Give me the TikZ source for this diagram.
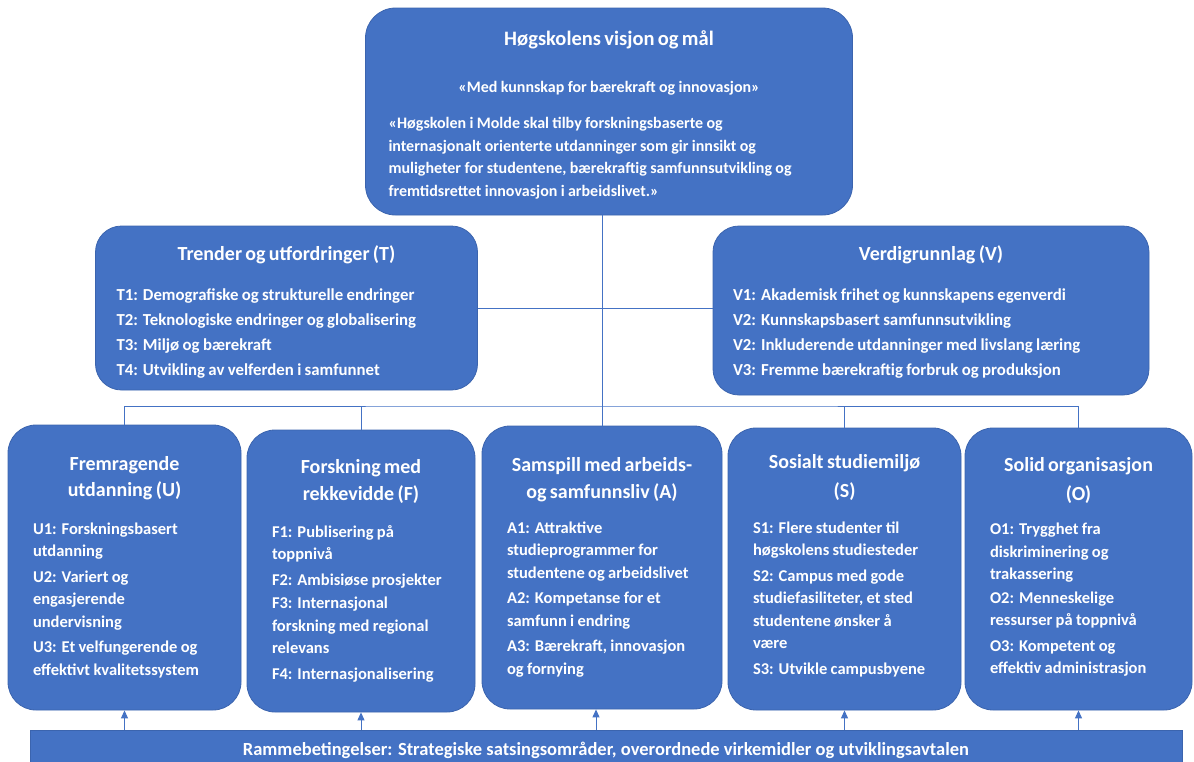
\documentclass[tikz,border=0pt]{standalone}
\usepackage{fontspec}
\setmainfont{Carlito}
\usepackage{tikz}
\usetikzlibrary{shapes,arrows.meta,positioning}
\definecolor{boxblue}{HTML}{4472C4}
\definecolor{edgeblue}{HTML}{3B64AE}
\tikzstyle{bbox} = [rectangle, rounded corners=28pt, fill=boxblue, draw=edgeblue, line width=0.8pt, text=white, font=\bfseries, align=left, inner xsep=25pt, inner ysep=0pt]
\tikzstyle{line} = [draw=boxblue, line width=1pt]
\tikzstyle{uparrow} = [draw=boxblue, line width=1pt, -{Triangle[length=8pt,width=7pt]}]
\newcommand{\boxhead}[3]{{\centering\fontsize{#1}{#2}\selectfont #3\par}}
\newcommand{\bodysize}{\fontsize{16.5}{22.5}\selectfont}

\begin{document}
\begin{tikzpicture}[x=1pt, y=-1pt]
			\path [use as bounding box] (0,0) rectangle (1194,761);
			\clip (0,0) rectangle (1194,761);

			% visjon
			\node [bbox, rounded corners=30pt, minimum width=487pt, minimum height=207pt, text width=441pt, inner xsep=23pt] (visjon) at (609,111.5) {%
				\boxhead{20.5}{24}{Høgskolens visjon og mål}\vspace{25pt}
				\boxhead{16}{22}{«Med kunnskap for bærekraft og innovasjon»}\vspace{14pt}
				\fontsize{16}{22.5}\selectfont «Høgskolen i Molde skal tilby forskningsbaserte og\\
				internasjonalt orienterte utdanninger som gir innsikt og\\
				muligheter for studentene, bærekraftig samfunnsutvikling og\\
				fremtidsrettet innovasjon i arbeidslivet.»\par\vspace*{-6pt}};

			% trender og verdier
			\node [bbox, rounded corners=26pt, minimum width=381pt, minimum height=164pt, text width=340pt, inner xsep=21pt] (trender) at (286.5,308) {%
				\boxhead{20}{24}{Trender og utfordringer (T)}\vspace{15pt}
				\fontsize{16.8}{25}\selectfont T1: Demografiske og strukturelle endringer\\
				T2: Teknologiske endringer og globalisering\\
				T3: Miljø og bærekraft\\
				T4: Utvikling av velferden i samfunnet\par\vspace*{-8pt}};
			\node [bbox, rounded corners=26pt, minimum width=436pt, minimum height=169pt, text width=396pt, inner xsep=20pt] (verdi) at (931,310.5) {%
				\boxhead{20}{24}{Verdigrunnlag (V)}\vspace{15pt}
				\fontsize{16.8}{25}\selectfont V1: Akademisk frihet og kunnskapens egenverdi\\
				V2: Kunnskapsbasert samfunnsutvikling\\
				V2: Inkluderende utdanninger med livslang læring\\
				V3: Fremme bærekraftig forbruk og produksjon\par\vspace*{-2pt}};

			% satsingsomraader
			\node [bbox, minimum width=233pt, minimum height=285pt, text width=183pt] (utd) at (124.5,567.5) {%
				\boxhead{20}{26}{Fremragende\\utdanning (U)}\vspace{15pt}
				\bodysize U1: Forskningsbasert\\utdanning\\[3pt]
				U2: Variert og\\engasjerende\\undervisning\\[3pt]
				U3: Et velfungerende og\\effektivt kvalitetssystem\par};
			\node [bbox, minimum width=228pt, minimum height=282pt, text width=178pt] (fou) at (361,571) {%
				\boxhead{20}{27}{Forskning med\\rekkevidde (F)}\vspace{14pt}
				\bodysize F1: Publisering på\\toppnivå\\[3pt]
				F2: Ambisiøse prosjekter\\[1pt]
				F3: Internasjonal\\forskning med regional\\relevans\\[3pt]
				F4: Internasjonalisering\par};
			\node [bbox, minimum width=240pt, minimum height=283pt, text width=190pt] (samspill) at (602,567.5) {%
				\boxhead{20}{27}{Samspill med arbeids-\\og samfunnsliv (A)}\vspace{12pt}
				\bodysize A1: Attraktive\\studieprogrammer for\\studentene og arbeidslivet\\[3pt]
				A2: Kompetanse for et\\samfunn i endring\\[3pt]
				A3: Bærekraft, innovasjon\\og fornying\par};
			\node [bbox, minimum width=233pt, minimum height=282pt, text width=183pt] (miljo) at (844.5,569) {%
				\boxhead{20}{29}{Sosialt studiemiljø\\(S)}\vspace{13pt}
				\bodysize S1: Flere studenter til\\høgskolens studiesteder\\[3pt]
				S2: Campus med gode\\studiefasiliteter, et sted\\studentene ønsker å\\være\\[3pt]
				S3: Utvikle campusbyene\par\vspace*{6pt}};
			\node [bbox, minimum width=227pt, minimum height=282pt, text width=177pt] (org) at (1078.5,569) {%
				\boxhead{20}{29}{Solid organisasjon\\(O)}\vspace{12pt}
				\bodysize O1: Trygghet fra\\diskriminering og\\trakassering\\[1pt]
				O2: Menneskelige\\ressurser på toppnivå\\[3pt]
				O3: Kompetent og\\effektiv administrasjon\par\vspace*{4pt}};

			% rammebetingelser
			\node [rectangle, fill=boxblue, draw=edgeblue, line width=0.8pt, text=white, font=\bfseries\fontsize{18.5}{20}\selectfont, minimum width=1152pt, minimum height=50pt, inner sep=0pt, text depth=13pt] (ramme) at (606,755) {Rammebetingelser: Strategiske satsingsområder, overordnede virkemidler og utviklingsavtalen};

			\coordinate (hub) at (602,406);

			\path [line] (visjon.south -| hub) -- (hub);
			\path [line] (trender.east) -- (trender.east -| verdi.west);
			\path [line] (utd.north) |- (hub) -| (org.north);
			\path [line] (fou.north) -- (fou.north |- hub);
			\path [line] (samspill.north) -- (samspill.north |- hub);
			\path [line] (miljo.north) -- (miljo.north |- hub);

			\draw [uparrow] (utd.south |- ramme.north) -- (utd.south);
			\draw [uparrow] (fou.south |- ramme.north) -- (fou.south);
			\draw [uparrow] ([xshift=-6pt]samspill.south |- ramme.north) -- ([xshift=-6pt]samspill.south);
			\draw [uparrow] (miljo.south |- ramme.north) -- (miljo.south);
			\draw [uparrow] (org.south |- ramme.north) -- (org.south);
		\end{tikzpicture}
\end{document}
